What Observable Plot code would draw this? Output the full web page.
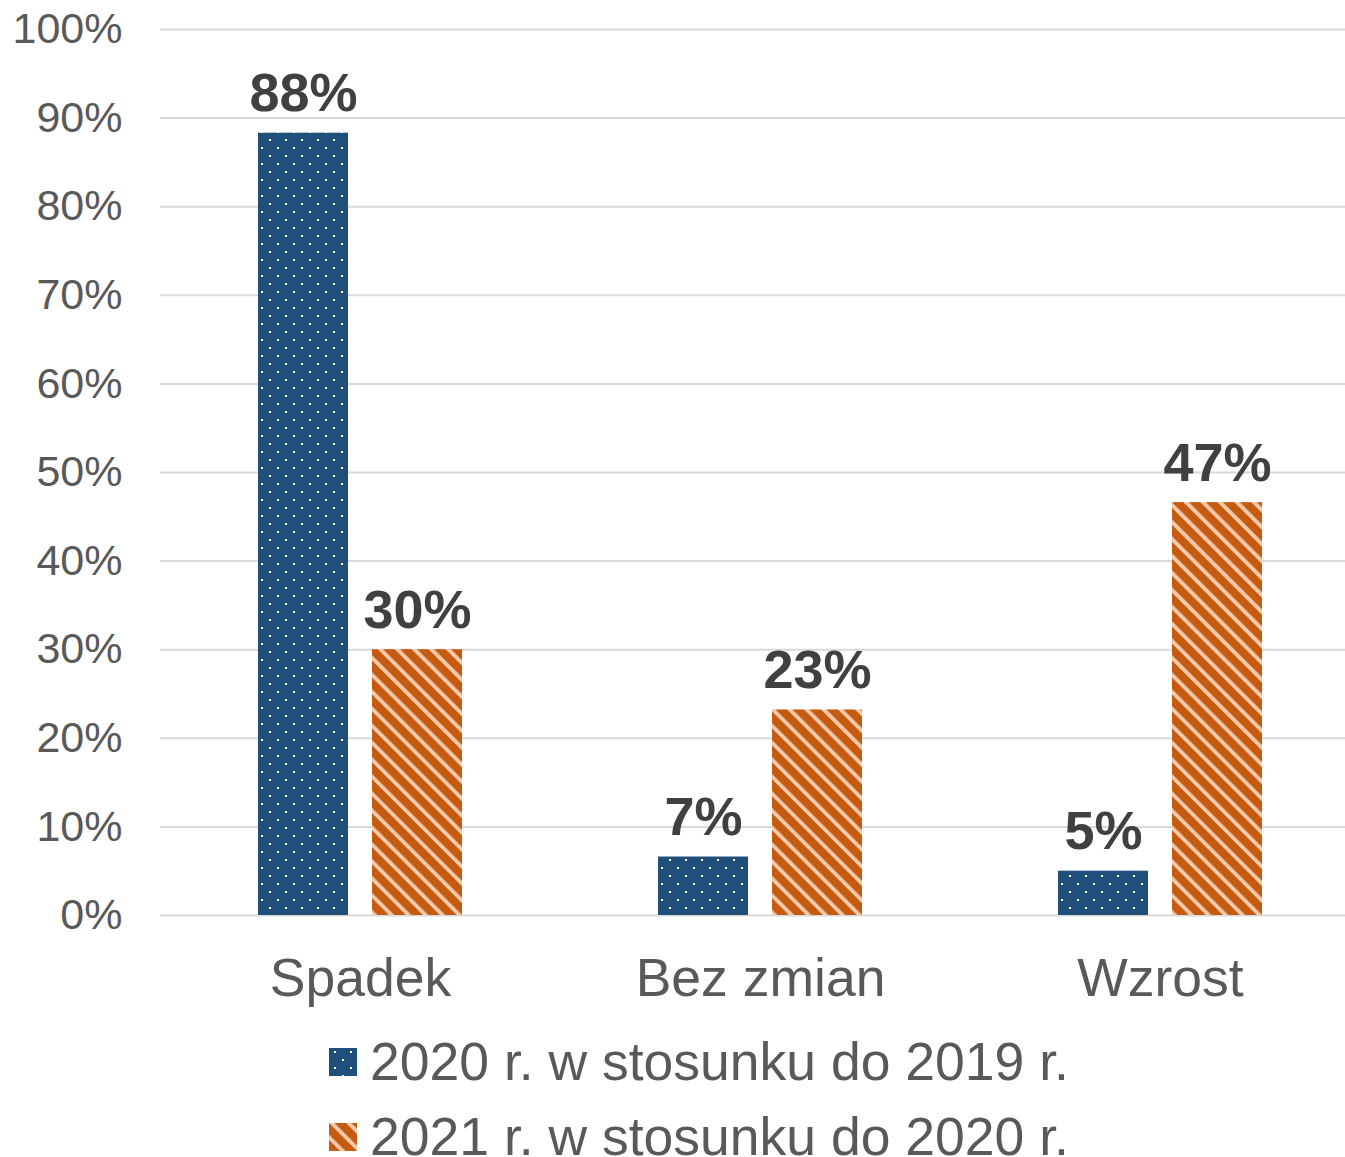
<!DOCTYPE html>
<html>
<head>
<meta charset="utf-8">
<script src="https://cdn.jsdelivr.net/npm/d3@7"></script>
<script src="https://cdn.jsdelivr.net/npm/@observablehq/plot@0.6"></script>
<style>
  html, body { margin: 0; padding: 0; background: #fff; overflow: hidden; }
  body { font-family: "Liberation Sans", Arial, sans-serif; }
  #legend { margin-left: 329px; margin-top: 14px; }
  .item { display: flex; align-items: center; height: 75px; font-size: 53.5px; color: #595959; }
  .item span { line-height: 0.7; }
  .item svg { width: 28px; height: 28px; margin-right: 13px; flex: none; }
</style>
</head>
<body>
<div id="chart"></div>
<div id="legend"></div>
<script>
const categories = ["Spadek", "Bez zmian", "Wzrost"];
const seriesNames = ["2020 r. w stosunku do 2019 r.", "2021 r. w stosunku do 2020 r."];
const values2020 = [88.3, 6.6, 5.0];
const values2021 = [30.0, 23.2, 46.6];
const yTicks = [0, 10, 20, 30, 40, 50, 60, 70, 80, 90, 100];
const patternIds = ["dots", "stripes"];

const data = [];
categories.forEach((c, i) => {
  data.push({category: c, series: seriesNames[0], value: values2020[i]});
  data.push({category: c, series: seriesNames[1], value: values2021[i]});
});

const defsMarkup = `
  <pattern id="dots" patternUnits="userSpaceOnUse" width="16" height="16">
    <rect width="16" height="16" fill="#1f4e79"/>
    <rect x="5" y="3" width="2" height="2" fill="#ffffff"/>
    <rect x="13" y="11" width="2" height="2" fill="#ffffff"/>
  </pattern>
  <pattern id="stripes" patternUnits="userSpaceOnUse" width="12" height="12" patternTransform="rotate(-45)">
    <rect width="12" height="12" fill="#c55a11"/>
    <rect x="0" y="0" width="3.8" height="12" fill="#f8cbad"/>
  </pattern>`;

const chart = Plot.plot({
  width: 1360,
  height: 1010,
  marginTop: 29,
  marginBottom: 95,
  marginLeft: 160,
  marginRight: 0,
  style: {maxWidth: "none", fontFamily: "'Liberation Sans', Arial, sans-serif", color: "#595959", background: "#fff"},
  fx: {domain: categories, padding: 0},
  x: {domain: seriesNames, paddingInner: 0.2105, paddingOuter: 0.8596, axis: null},
  y: {domain: [0, 100], axis: null},
  color: {domain: seriesNames, range: patternIds.map(id => `url(#${id})`)},
  marks: [
    Plot.ruleY(yTicks, {stroke: "#d9d9d9", strokeWidth: 2}),
    Plot.axisY(yTicks, {anchor: "left", tickSize: 0, tickPadding: 38, fontSize: 43, tickFormat: d => d + "%", label: null, facetAnchor: "left"}),
    Plot.axisFx({anchor: "bottom", tickSize: 0, tickPadding: 42, fontSize: 53.5, label: null}),
    Plot.barY(data, {fx: "category", x: "series", y: "value", fill: "series"}),
    Plot.text(data, {fx: "category", x: "series", y: "value", text: d => Math.round(d.value) + "%",
      lineAnchor: "bottom", dy: -22, fontSize: 54, fontWeight: "bold", fill: "#404040"})
  ]
});

const defs = document.createElementNS("http://www.w3.org/2000/svg", "defs");
defs.innerHTML = defsMarkup;
chart.insertBefore(defs, chart.firstChild);
document.getElementById("chart").appendChild(chart);

const legend = document.getElementById("legend");
seriesNames.forEach((name, i) => {
  const item = document.createElement("div");
  item.className = "item";
  item.innerHTML = `<svg viewBox="0 0 28 28"><rect width="28" height="28" fill="url(#${patternIds[i]})"/></svg><span>${name}</span>`;
  legend.appendChild(item);
});
</script>
</body>
</html>
